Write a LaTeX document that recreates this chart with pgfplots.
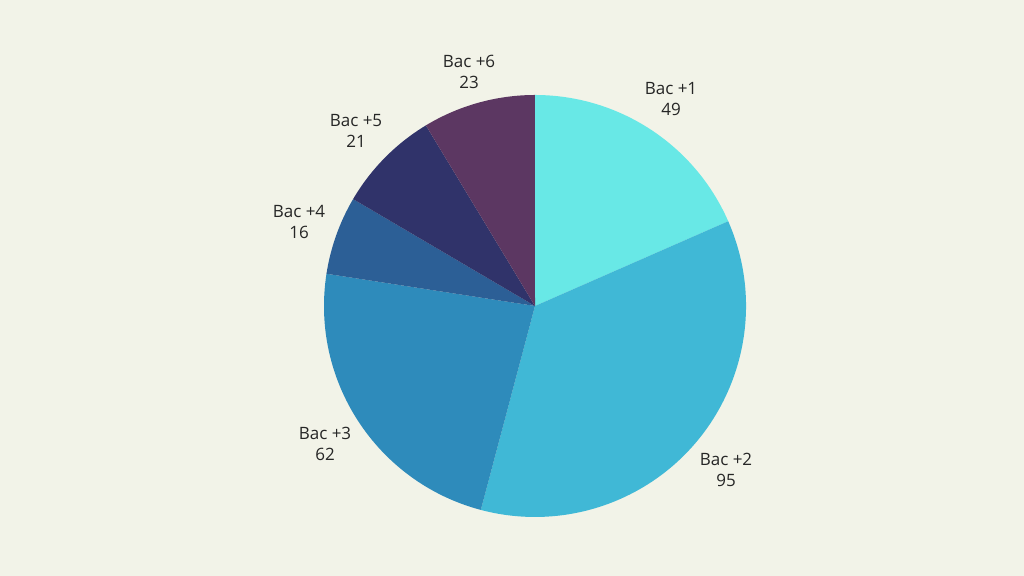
\documentclass[border=0pt]{standalone}
\usepackage{pgfplots}
\pgfplotsset{compat=1.18}
\usepackage{pgfplotstable}
\usepackage{fontspec}
\setmainfont{Open Sans}
\definecolor{bg}{HTML}{F2F3E8}
\definecolor{cA}{HTML}{68E8E6}
\definecolor{cB}{HTML}{40B8D6}
\definecolor{cC}{HTML}{2E8BBB}
\definecolor{cD}{HTML}{2C5F96}
\definecolor{cE}{HTML}{30336A}
\definecolor{cF}{HTML}{5C3762}
% values of the slices
\pgfmathsetmacro\vA{49}
\pgfmathsetmacro\vB{95}
\pgfmathsetmacro\vC{62}
\pgfmathsetmacro\vD{16}
\pgfmathsetmacro\vE{21}
\pgfmathsetmacro\vF{23}
\pgfmathsetmacro\tot{\vA+\vB+\vC+\vD+\vE+\vF}
\pgfmathsetmacro\a{90}
\pgfmathsetmacro\aA{\a-\vA/\tot*360}
\pgfmathsetmacro\aB{\aA-\vB/\tot*360}
\pgfmathsetmacro\aC{\aB-\vC/\tot*360}
\pgfmathsetmacro\aD{\aC-\vD/\tot*360}
\pgfmathsetmacro\aE{\aD-\vE/\tot*360}
\pgfmathsetmacro\aF{\aE-\vF/\tot*360}
\newcommand\cx{535}
\newcommand\cy{270}
\newcommand\R{211}
\pgfplotstableread{
x   y   n  v
671 477 1  49
726 106 2  95
325 132 3  62
299 354 4  16
356 445 5  21
469 504 6  23
}\labels
\begin{document}
\begin{tikzpicture}
\begin{axis}[
  hide axis, scale only axis,
  width=512pt, height=288pt,
  xmin=0, xmax=1024, ymin=0, ymax=576,
  clip=false,
  /pgf/number format/assume math mode=true,
]
\addplot[fill=bg, draw=none] coordinates {(0,0) (1024,0) (1024,576) (0,576)} -- cycle;
\pgfmathsetmacro\px{\cx+\R*cos(\a)}\pgfmathsetmacro\py{\cy+\R*sin(\a)}
\addplot[fill=cA, draw=none] coordinates {(\cx,\cy) (\px,\py)} arc[start angle=\a, end angle=\aA, radius=105.5pt] -- cycle;
\pgfmathsetmacro\px{\cx+\R*cos(\aA)}\pgfmathsetmacro\py{\cy+\R*sin(\aA)}
\addplot[fill=cB, draw=none] coordinates {(\cx,\cy) (\px,\py)} arc[start angle=\aA, end angle=\aB, radius=105.5pt] -- cycle;
\pgfmathsetmacro\px{\cx+\R*cos(\aB)}\pgfmathsetmacro\py{\cy+\R*sin(\aB)}
\addplot[fill=cC, draw=none] coordinates {(\cx,\cy) (\px,\py)} arc[start angle=\aB, end angle=\aC, radius=105.5pt] -- cycle;
\pgfmathsetmacro\px{\cx+\R*cos(\aC)}\pgfmathsetmacro\py{\cy+\R*sin(\aC)}
\addplot[fill=cD, draw=none] coordinates {(\cx,\cy) (\px,\py)} arc[start angle=\aC, end angle=\aD, radius=105.5pt] -- cycle;
\pgfmathsetmacro\px{\cx+\R*cos(\aD)}\pgfmathsetmacro\py{\cy+\R*sin(\aD)}
\addplot[fill=cE, draw=none] coordinates {(\cx,\cy) (\px,\py)} arc[start angle=\aD, end angle=\aE, radius=105.5pt] -- cycle;
\pgfmathsetmacro\px{\cx+\R*cos(\aE)}\pgfmathsetmacro\py{\cy+\R*sin(\aE)}
\addplot[fill=cF, draw=none] coordinates {(\cx,\cy) (\px,\py)} arc[start angle=\aE, end angle=\aF, radius=105.5pt] -- cycle;
\addplot[only marks, mark=none,
  visualization depends on={\thisrow{n}\as\nn},
  visualization depends on={\thisrow{v}\as\vv},
  nodes near coords={Bac +\pgfmathprintnumber[int detect,assume math mode=true]{\nn}\\\pgfmathprintnumber[int detect,assume math mode=true]{\vv}},
  every node near coord/.append style={anchor=center, align=center,
    font=\fontsize{8.5}{10.5}\selectfont, text=black!85, inner sep=0pt},
] table[x=x, y=y] {\labels};
\end{axis}
\end{tikzpicture}
\end{document}
